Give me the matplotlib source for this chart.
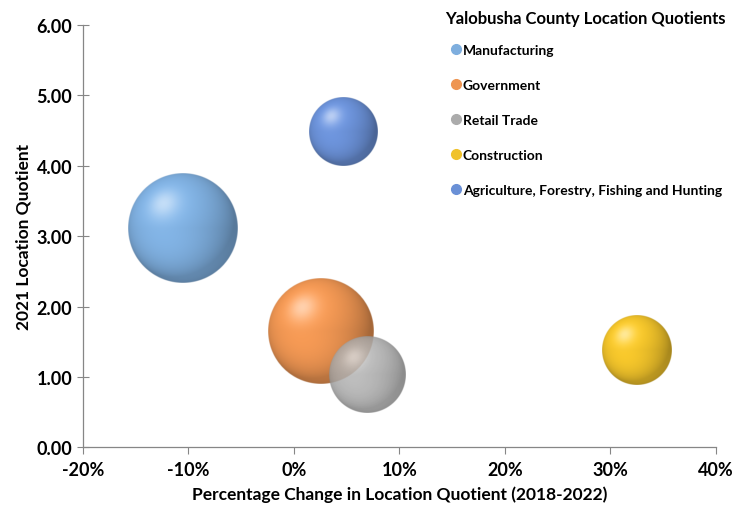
import numpy as np
import matplotlib
matplotlib.use('Agg')
import matplotlib.pyplot as plt
from matplotlib.lines import Line2D
from matplotlib.ticker import FuncFormatter

plt.rcParams['font.family'] = ['Lato', 'DejaVu Sans']
plt.rcParams['font.weight'] = 'bold'
plt.rcParams['axes.unicode_minus'] = False

industries = ['Manufacturing', 'Government', 'Retail Trade', 'Construction',
              'Agriculture, Forestry, Fishing and Hunting']
pct_change = [-0.105, 0.025, 0.070, 0.325, 0.047]
location_quotient = [3.11, 1.65, 1.03, 1.39, 4.49]
bubble_size = [2970, 2760, 1480, 1220, 1190]
colors = ['#7eaede', '#ee9552', '#ababab', '#f0c22a', '#6a90d6']
alphas = [1.0, 1.0, 0.85, 1.0, 1.0]

title = 'Yalobusha County Location Quotients'


def sphere(color, alpha, n=240):
    c = np.array(matplotlib.colors.to_rgb(color))
    u, v = np.meshgrid(np.linspace(-1, 1, n), np.linspace(-1, 1, n))
    r = np.sqrt(u**2 + v**2)
    z = np.sqrt(np.clip(1 - r**2, 0, 1))
    L = np.array([-0.35, 0.45, 0.82])
    L = L / np.linalg.norm(L)
    d = np.clip(u * L[0] + v * L[1] + z * L[2], 0, 1)
    # soft bounce light near the bottom
    bounce = np.clip(-v, 0, 1) * z * 0.2
    shade = 0.7 + 0.38 * d + bounce
    img = c[None, None, :] * shade[..., None]
    spec = d ** 25 * 0.5
    img = img + (1 - img) * spec[..., None]
    img = np.clip(img, 0, 1)
    a = np.clip((1 - r) * n / 2 + 0.5, 0, 1) * alpha
    return np.dstack([img, a])


fig = plt.figure(figsize=(7.36, 5.10), dpi=100)
ax = fig.add_axes([0.1124, 0.1206, 0.8604, 0.8284])
ax.set_xlim(-0.20, 0.40)
ax.set_ylim(0, 6)
ax.set_xticks(np.arange(-0.2, 0.41, 0.1))
ax.set_yticks(np.arange(0, 6.1, 1))
ax.xaxis.set_major_formatter(FuncFormatter(lambda v, p: '{:.0f}%'.format(v * 100 + 0.0)))
ax.yaxis.set_major_formatter(FuncFormatter(lambda v, p: '{:.2f}'.format(v)))

for s in ['top', 'right']:
    ax.spines[s].set_visible(False)
for s in ['left', 'bottom']:
    ax.spines[s].set_color('#868686')
    ax.spines[s].set_linewidth(0.9)
ax.tick_params(axis='x', direction='out', length=5, color='#868686', labelsize=13, pad=5)
ax.tick_params(axis='y', direction='inout', length=9, color='#868686', labelsize=13, pad=3)

ax.set_xlabel('Percentage Change in Location Quotient (2018-2022)', fontsize=12.5, fontweight='bold', labelpad=5)
ax.set_ylabel('2021 Location Quotient', fontsize=12.5, fontweight='bold', labelpad=4)

# bubble radius in pixels: largest bubble ~ 12.9% of the plot height
bbox = ax.get_window_extent()
px_x = bbox.width / 0.60
px_y = bbox.height / 6.0
max_r = 0.129 * bbox.height
smax = max(bubble_size)
for i in range(len(industries)):
    r = max_r * np.sqrt(bubble_size[i] / smax)
    rx = r / px_x
    ry = r / px_y
    x, y = pct_change[i], location_quotient[i]
    ax.imshow(sphere(colors[i], alphas[i]), origin='lower', interpolation='bilinear',
              extent=[x - rx, x + rx, y - ry, y + ry], aspect='auto', zorder=3 + i)
ax.set_xlim(-0.20, 0.40)
ax.set_ylim(0, 6)

fig.text(0.6046, 0.9627, title, ha='left', va='center', fontsize=12, fontweight='bold')

handles = [Line2D([], [], marker='o', linestyle='none', markersize=7,
                  markerfacecolor=c, markeredgecolor=c) for c in colors]
leg = ax.legend(handles, industries, loc='upper left', bbox_to_anchor=(0.612, 0.912),
                bbox_transform=fig.transFigure, frameon=False, fontsize=10,
                labelspacing=1.65, handletextpad=0.1, handlelength=0.8,
                borderpad=0, borderaxespad=0)
for t in leg.get_texts():
    t.set_fontweight('bold')

fig.savefig('out.png', dpi=100)
